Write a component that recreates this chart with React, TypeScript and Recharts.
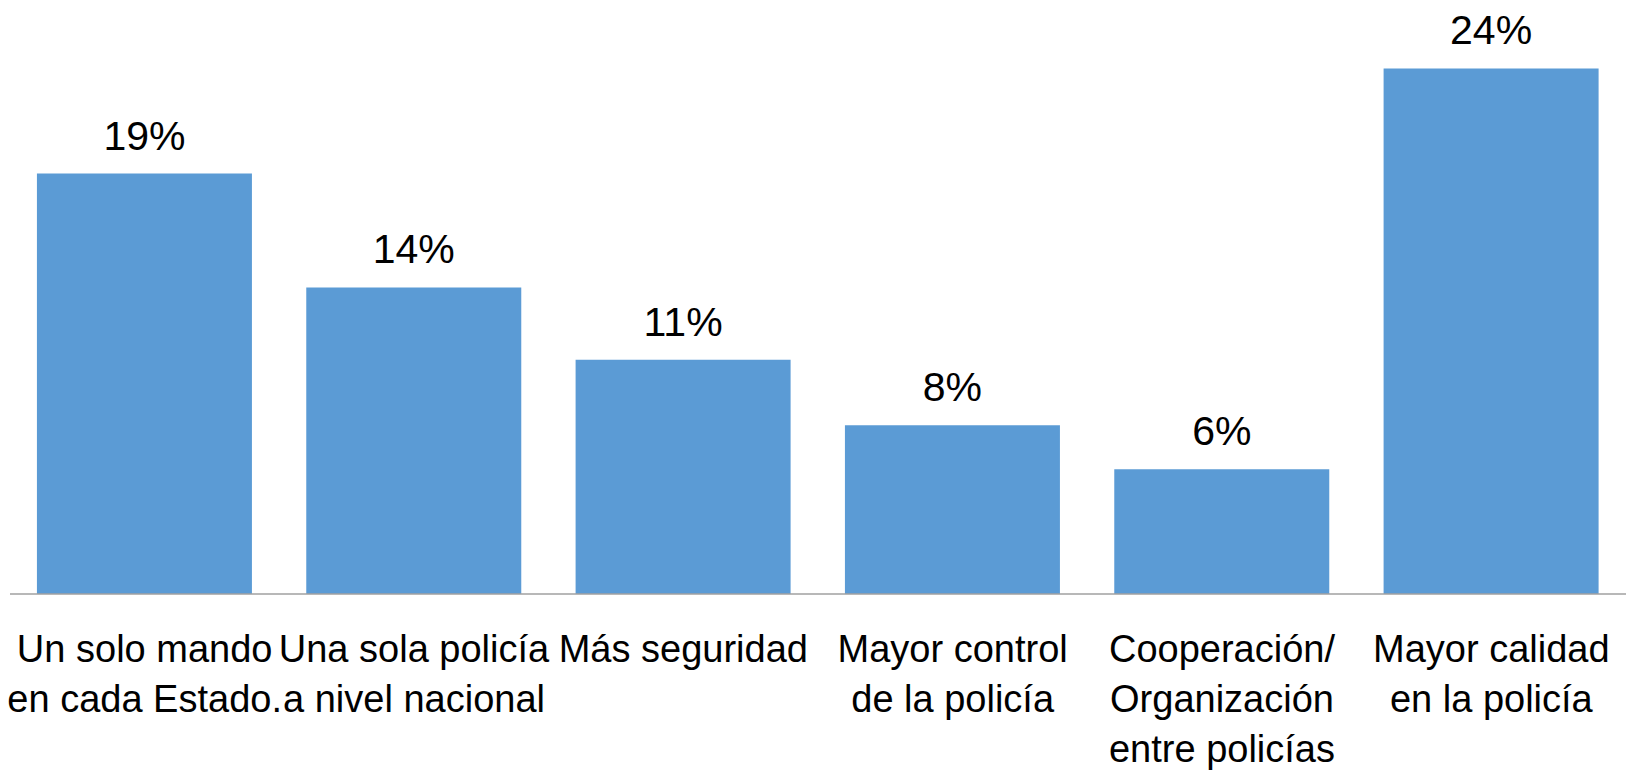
import React from 'react';
import { BarChart, Bar, XAxis, YAxis, LabelList } from 'recharts';

const categories = [
    'Un solo mando\nen cada Estado.',
    'Una sola policía\na nivel nacional',
    'Más seguridad',
    'Mayor control\nde la policía',
    'Cooperación/\nOrganización\nentre policías',
    'Mayor calidad\nen la policía',
];
const shares = [19.2, 14.0, 10.7, 7.7, 5.7, 24.0];

const data = categories.map((name, i) => ({ name, value: shares[i] }));

const FONT = "'Liberation Sans', Arial, sans-serif";

const CategoryTick = ({ x, y, payload }: { x?: number; y?: number; payload?: { value: string } }) => {
    const lines = String(payload?.value ?? '').split('\n');
    return (
        <text x={x} y={(y ?? 0) + 68} textAnchor="middle" fontFamily={FONT} fontSize={38} fill="#000">
            {lines.map((line, i) => (
                <tspan key={i} x={x} dy={i === 0 ? 0 : 50}>
                    {line}
                </tspan>
            ))}
        </text>
    );
};

export default function App() {
    return (
        <>
            <style>{'body{margin:0;background:#fff}'}</style>
            <BarChart
                width={1626}
                height={774}
                data={data}
                margin={{ top: 46.5, right: 0, left: 10, bottom: 0 }}
                barCategoryGap="10%"
            >
                <XAxis
                    dataKey="name"
                    height={180}
                    interval={0}
                    tickLine={false}
                    tickSize={0}
                    tickMargin={0}
                    axisLine={{ stroke: '#a0a0a0', strokeWidth: 1.5 }}
                    tick={<CategoryTick />}
                />
                <YAxis hide domain={[0, 25]} />
                <Bar dataKey="value" fill="#5B9BD5" isAnimationActive={false}>
                    <LabelList
                        dataKey="value"
                        position="top"
                        offset={24}
                        formatter={(v: number) => `${Math.round(v)}%`}
                        style={{ fontFamily: FONT, fontSize: 41, fill: '#000' }}
                    />
                </Bar>
            </BarChart>
        </>
    );
}
